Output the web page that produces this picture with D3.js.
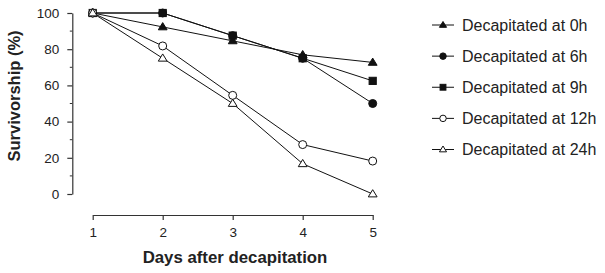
<!DOCTYPE html>
<html>
<head>
<meta charset="utf-8">
<script src="https://cdn.jsdelivr.net/npm/d3@7"></script>
<style>
  body { margin: 0; background: #fff; }
  svg { display: block; font-family: "Liberation Sans", Arial, sans-serif; }
</style>
</head>
<body>
<script>
(function (d3) {
  "use strict";

  /***** Data *****/
  var days = [1, 2, 3, 4, 5];
  var seriesNames = ["Decapitated at 0h", "Decapitated at 6h", "Decapitated at 9h", "Decapitated at 12h", "Decapitated at 24h"];
  var decap0h = [100, 92.3, 84.6, 76.9, 72.7];
  var decap6h = [100, 100, 87.5, 75, 50];
  var decap9h = [100, 100, 87.5, 75, 62.5];
  var decap12h = [100, 81.8, 54.5, 27.3, 18.2];
  var decap24h = [100, 75, 50, 16.7, 0];
  var yTicks = [0, 20, 40, 60, 80, 100];
  var yMinorTicks = [10, 30, 50, 70, 90];

  var series = [
    { name: seriesNames[0], values: decap0h, shape: "triangle", fill: "#111" },
    { name: seriesNames[1], values: decap6h, shape: "circle", fill: "#111" },
    { name: seriesNames[2], values: decap9h, shape: "square", fill: "#111" },
    { name: seriesNames[3], values: decap12h, shape: "circle", fill: "#fff" },
    { name: seriesNames[4], values: decap24h, shape: "triangle", fill: "#fff" }
  ];

  /***** Layout *****/
  var width = 605, height = 273;
  var xScale = d3.scaleLinear().domain([1, 5]).range([92.7, 372.7]);
  var yScale = d3.scaleLinear().domain([0, 100]).range([194, 13]);
  var axisColor = "#333";

  var svg = d3.select("body").append("svg")
      .attr("width", width)
      .attr("height", height);

  /***** Axes *****/
  var yAxisG = svg.append("g")
      .attr("transform", "translate(72.3,0)")
      .call(d3.axisLeft(yScale).tickValues(yTicks).tickSize(5).tickPadding(8).tickSizeOuter(0));
  yAxisG.append("g").selectAll("line").data(yMinorTicks).join("line")
      .attr("x1", -2.5).attr("x2", 0)
      .attr("y1", d => yScale(d)).attr("y2", d => yScale(d))
      .attr("stroke", axisColor);

  var xAxisG = svg.append("g")
      .attr("transform", "translate(0,215)")
      .call(d3.axisBottom(xScale).tickValues(days).tickFormat(d3.format("d")).tickSize(5).tickPadding(7).tickSizeOuter(0));

  [yAxisG, xAxisG].forEach(function (g) {
    g.select(".domain").attr("stroke", axisColor).attr("stroke-width", 1.2);
    g.selectAll(".tick line").attr("stroke", axisColor).attr("stroke-width", 1.2);
    g.selectAll(".tick text").attr("fill", "#222").style("font-size", "13.5px")
      .style("font-family", "'Liberation Sans', Arial, sans-serif");
  });

  svg.append("text")
      .attr("x", 235).attr("y", 263)
      .attr("text-anchor", "middle")
      .style("font-size", "16.8px").style("font-weight", "bold").attr("fill", "#222")
      .text("Days after decapitation");

  svg.append("text")
      .attr("transform", "translate(20,96) rotate(-90)")
      .attr("text-anchor", "middle")
      .style("font-size", "16.5px").style("font-weight", "bold").attr("fill", "#222")
      .text("Survivorship (%)");

  /***** Markers *****/
  function drawMarker(g, shape, fill, size) {
    var stroke = "#111";
    if (shape === "circle") {
      g.append("circle").attr("r", size * 0.5).attr("fill", fill).attr("stroke", stroke).attr("stroke-width", 1);
    } else if (shape === "square") {
      g.append("rect").attr("x", -size * 0.45).attr("y", -size * 0.45)
        .attr("width", size * 0.9).attr("height", size * 0.9)
        .attr("fill", fill).attr("stroke", stroke).attr("stroke-width", 1);
    } else {
      var h = size * 0.9, w = size * 0.55;
      g.append("path").attr("d", "M0," + (-h * 0.6) + "L" + w + "," + (h * 0.4) + "L" + (-w) + "," + (h * 0.4) + "Z")
        .attr("fill", fill).attr("stroke", stroke).attr("stroke-width", 1);
    }
  }

  var line = d3.line()
      .x((d, i) => xScale(days[i]))
      .y(d => yScale(d));

  svg.append("g").selectAll("path").data(series).join("path")
      .attr("d", d => line(d.values))
      .attr("fill", "none")
      .attr("stroke", "#111")
      .attr("stroke-width", 1);

  series.forEach(function (s) {
    s.values.forEach(function (v, i) {
      var g = svg.append("g").attr("transform", "translate(" + xScale(days[i]) + "," + yScale(v) + ")");
      drawMarker(g, s.shape, s.fill, 8);
    });
  });

  /***** Legend *****/
  var legendY = d3.scaleLinear().domain([0, 4]).range([25, 149.5]);
  var legend = svg.append("g").selectAll("g").data(series).join("g")
      .attr("transform", (d, i) => "translate(432," + legendY(i) + ")");
  legend.append("line")
      .attr("x1", 0).attr("x2", 22).attr("y1", 0).attr("y2", 0)
      .attr("stroke", "#111").attr("stroke-width", 1);
  legend.each(function (d) {
    var g = d3.select(this).append("g").attr("transform", "translate(11,0)");
    drawMarker(g, d.shape, d.fill, 6.5);
  });
  legend.append("text")
      .attr("x", 30).attr("y", 0).attr("dy", "0.35em")
      .style("font-size", "16px").attr("fill", "#222")
      .text(d => d.name);
})(d3);
</script>
</body>
</html>
